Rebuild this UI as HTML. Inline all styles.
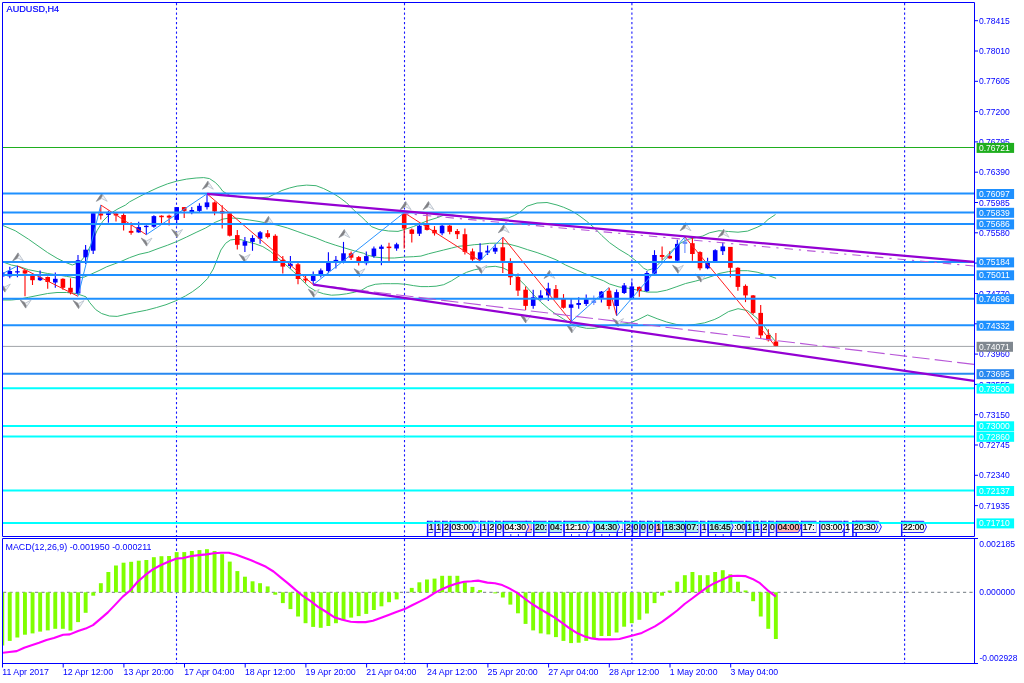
<!DOCTYPE html>
<html lang="en"><head><meta charset="utf-8"><title>AUDUSD,H4</title>
<style>
html,body{margin:0;padding:0;background:#fff;}
body{width:1024px;height:683px;overflow:hidden;font-family:"Liberation Sans",Arial,sans-serif;}
svg{display:block;}
</style></head><body>
<svg width="1024" height="683" viewBox="0 0 1024 683" font-family="'Liberation Sans', Arial, sans-serif" font-size="8.5px">
<rect width="1024" height="683" fill="#ffffff"/>
<defs><clipPath id="cm"><rect x="3" y="3" width="971" height="533"/></clipPath><clipPath id="cd"><rect x="3" y="539" width="971" height="124"/></clipPath></defs>
<g stroke="#1818ff" stroke-width="1.1" stroke-dasharray="2.3 2.45" fill="none">
<line x1="176.5" y1="3" x2="176.5" y2="536"/>
<line x1="176.5" y1="539" x2="176.5" y2="663"/>
<line x1="404.5" y1="3" x2="404.5" y2="536"/>
<line x1="404.5" y1="539" x2="404.5" y2="663"/>
<line x1="631.9" y1="3" x2="631.9" y2="536"/>
<line x1="631.9" y1="539" x2="631.9" y2="663"/>
<line x1="904.6" y1="3" x2="904.6" y2="536"/>
<line x1="904.6" y1="539" x2="904.6" y2="663"/>
</g>
<g clip-path="url(#cm)">
<polyline points="2.9,225.5 15.2,230.7 28.5,239.2 38.0,245.9 47.6,252.6 57.1,258.3 64.7,262.1 72.3,265.0 80.0,262.1 85.6,255.4 91.4,244.0 97.0,230.7 102.8,221.2 110.4,213.5 118.0,208.8 125.6,205.0 129.5,201.9 139.0,196.8 148.5,192.0 158.0,187.6 167.6,183.8 177.1,181.0 186.6,179.1 196.1,178.0 203.7,177.6 209.5,178.6 215.2,182.4 219.0,186.2 222.8,191.3 230.0,195.5 245.0,197.5 260.0,197.8 268.5,197.1 274.3,194.3 281.9,190.5 289.5,188.0 297.1,186.1 306.6,185.1 316.1,185.7 323.7,188.6 331.4,192.4 339.0,197.1 346.6,202.8 354.2,210.5 361.8,217.1 365.7,220.9 371.4,226.6 379.0,229.5 388.5,231.0 398.0,231.4 405.7,229.1 413.3,226.6 420.9,223.4 428.5,220.4 436.1,218.1 443.7,215.2 451.4,214.8 460.9,216.2 470.4,218.1 479.9,219.0 490.0,218.3 499.0,218.7 508.5,217.9 514.3,215.5 519.5,212.5 527.0,206.2 537.0,203.0 547.0,202.5 557.0,205.0 563.7,207.3 571.4,210.7 579.0,215.5 586.6,221.2 594.2,227.8 601.8,235.5 609.5,242.6 619.0,249.3 628.5,255.0 638.0,262.6 643.8,268.3 647.6,270.2 651.4,269.2 657.1,265.4 664.7,257.8 672.3,250.2 680.0,243.5 687.6,239.4 695.2,237.8 702.8,236.0 709.5,232.8 719.0,230.7 728.5,231.5 738.0,232.2 747.6,231.1 757.1,227.3 762.8,224.5 768.0,219.5 775.5,214.5" fill="none" stroke="#3cb371" stroke-width="1" stroke-linejoin="round"/>
<polyline points="2.9,262.0 11.4,265.0 19.0,266.5 28.5,269.7 38.0,271.6 47.6,273.5 57.0,274.8 66.6,276.4 76.0,277.9 83.7,277.3 91.4,274.0 99.0,270.6 106.6,266.8 114.2,264.0 121.8,261.1 129.5,257.7 139.0,254.3 148.5,252.2 158.0,248.6 167.6,245.2 177.1,241.4 186.6,237.0 196.1,232.4 205.6,228.0 215.2,222.3 222.8,219.1 230.4,218.0 238.0,218.3 249.5,220.0 259.0,221.5 268.5,223.4 278.0,225.3 287.6,228.0 297.1,231.4 306.6,234.8 316.1,238.0 325.6,241.9 335.2,245.1 344.7,248.0 354.2,250.8 363.7,253.3 367.6,255.2 375.2,257.1 384.7,258.0 394.3,258.0 403.8,257.1 413.3,256.7 420.9,256.1 428.5,253.8 436.1,251.9 443.7,250.0 451.4,248.1 459.0,246.2 466.6,245.7 474.2,244.7 481.8,244.2 489.5,243.3 499.0,243.1 508.5,244.0 518.0,246.5 527.6,249.7 537.1,252.6 546.6,256.0 556.1,259.8 565.6,265.0 575.2,269.3 584.7,273.5 594.2,277.3 603.7,280.8 609.5,284.0 619.0,286.9 628.5,288.3 638.0,290.2 647.6,292.1 657.1,292.1 666.6,290.2 676.1,286.9 685.6,283.5 695.2,281.2 704.7,278.6 714.2,275.5 719.0,273.5 728.5,271.6 738.0,270.7 747.6,270.7 757.1,272.2 766.6,274.9 776.1,278.3" fill="none" stroke="#3cb371" stroke-width="1" stroke-linejoin="round"/>
<polyline points="2.9,300.0 11.4,300.0 19.0,299.2 28.5,297.3 38.0,295.4 47.6,293.5 57.0,292.5 66.6,292.5 76.0,293.5 83.7,296.0 86.0,296.9 89.8,302.7 95.7,309.6 101.6,313.5 109.4,316.0 117.2,316.4 127.0,314.1 136.7,312.1 146.5,310.2 156.3,307.6 166.0,304.7 175.8,300.8 185.5,295.9 192.3,291.8 200.0,286.1 207.6,278.5 213.3,269.0 217.1,259.5 220.9,250.0 225.6,243.3 230.4,240.0 236.1,239.2 241.8,239.8 247.6,241.9 255.2,243.8 262.8,246.6 270.5,251.4 278.0,258.0 285.7,264.7 293.3,271.4 300.9,279.0 308.5,286.6 316.1,291.3 323.7,293.8 331.4,295.2 339.0,294.8 346.6,293.8 354.2,292.3 361.8,290.0 367.6,286.6 375.2,284.3 382.8,283.7 390.5,283.7 398.0,283.7 405.7,284.3 413.3,285.6 420.9,286.6 428.5,286.6 436.1,286.2 443.7,284.7 451.4,280.9 459.0,276.1 466.6,272.3 474.2,269.8 481.8,268.5 487.6,266.9 495.2,266.3 502.8,267.8 510.5,271.6 518.0,278.3 525.7,285.9 533.3,294.5 540.9,302.1 548.5,308.7 556.1,314.4 563.7,319.2 571.4,324.0 579.0,326.8 586.6,328.3 594.2,328.3 601.8,326.8 609.5,325.4 619.0,324.4 628.5,323.5 638.0,319.7 647.6,314.9 657.1,318.7 666.6,322.0 676.1,324.4 685.6,325.4 695.2,324.4 704.7,322.8 714.2,319.6 719.0,317.3 728.5,311.6 738.0,308.7 747.6,310.6 757.1,318.3 764.7,326.8 770.4,335.4 775.2,341.1" fill="none" stroke="#3cb371" stroke-width="1" stroke-linejoin="round"/>
<line x1="2.2" y1="270.0" x2="2.2" y2="278.0" stroke="#0000ff" stroke-width="1.1"/>
<rect x="-0.1" y="272.5" width="4.6" height="4.0" fill="#0000ff"/>
<line x1="9.8" y1="266.8" x2="9.8" y2="278.3" stroke="#0000ff" stroke-width="1.1"/>
<rect x="7.5" y="271.0" width="4.6" height="5.4" fill="#0000ff"/>
<line x1="17.4" y1="265.9" x2="17.4" y2="277.3" stroke="#0000ff" stroke-width="1.1"/>
<rect x="15.1" y="271.2" width="4.6" height="1.3" fill="#0000ff"/>
<line x1="25.0" y1="270.3" x2="25.0" y2="296.3" stroke="#ff0000" stroke-width="1.1"/>
<rect x="22.7" y="270.3" width="4.6" height="3.2" fill="#ff0000"/>
<line x1="32.5" y1="274.5" x2="32.5" y2="285.0" stroke="#ff0000" stroke-width="1.1"/>
<rect x="30.2" y="276.0" width="4.6" height="4.2" fill="#ff0000"/>
<line x1="40.1" y1="270.6" x2="40.1" y2="281.1" stroke="#0000ff" stroke-width="1.1"/>
<rect x="37.8" y="277.3" width="4.6" height="2.9" fill="#0000ff"/>
<line x1="47.7" y1="276.4" x2="47.7" y2="288.7" stroke="#ff0000" stroke-width="1.1"/>
<rect x="45.4" y="277.0" width="4.6" height="5.0" fill="#ff0000"/>
<line x1="55.3" y1="272.6" x2="55.3" y2="287.8" stroke="#0000ff" stroke-width="1.1"/>
<rect x="53.0" y="278.8" width="4.6" height="3.7" fill="#0000ff"/>
<line x1="62.9" y1="278.3" x2="62.9" y2="289.7" stroke="#ff0000" stroke-width="1.1"/>
<rect x="60.6" y="278.8" width="4.6" height="9.0" fill="#ff0000"/>
<line x1="70.5" y1="278.3" x2="70.5" y2="294.4" stroke="#ff0000" stroke-width="1.1"/>
<rect x="68.2" y="287.8" width="4.6" height="4.7" fill="#ff0000"/>
<line x1="78.0" y1="255.0" x2="78.0" y2="294.4" stroke="#0000ff" stroke-width="1.1"/>
<rect x="75.8" y="260.2" width="4.6" height="33.3" fill="#0000ff"/>
<line x1="85.6" y1="245.0" x2="85.6" y2="264.0" stroke="#0000ff" stroke-width="1.1"/>
<rect x="83.3" y="249.7" width="4.6" height="7.6" fill="#0000ff"/>
<line x1="93.2" y1="213.2" x2="93.2" y2="253.9" stroke="#0000ff" stroke-width="1.1"/>
<rect x="90.9" y="213.2" width="4.6" height="37.5" fill="#0000ff"/>
<line x1="100.8" y1="205.6" x2="100.8" y2="219.6" stroke="#ff0000" stroke-width="1.1"/>
<rect x="98.5" y="213.5" width="4.6" height="2.0" fill="#ff0000"/>
<line x1="108.4" y1="210.7" x2="108.4" y2="222.7" stroke="#0000ff" stroke-width="1.1"/>
<rect x="106.1" y="213.2" width="4.6" height="1.8" fill="#0000ff"/>
<line x1="116.0" y1="212.6" x2="116.0" y2="221.5" stroke="#ff0000" stroke-width="1.1"/>
<rect x="113.7" y="213.5" width="4.6" height="2.0" fill="#ff0000"/>
<line x1="123.6" y1="213.3" x2="123.6" y2="230.4" stroke="#ff0000" stroke-width="1.1"/>
<rect x="121.3" y="215.0" width="4.6" height="10.0" fill="#ff0000"/>
<line x1="131.1" y1="222.3" x2="131.1" y2="234.7" stroke="#ff0000" stroke-width="1.1"/>
<rect x="128.8" y="230.9" width="4.6" height="1.9" fill="#ff0000"/>
<line x1="138.7" y1="221.8" x2="138.7" y2="232.8" stroke="#0000ff" stroke-width="1.1"/>
<rect x="136.4" y="227.1" width="4.6" height="5.3" fill="#0000ff"/>
<line x1="146.3" y1="225.2" x2="146.3" y2="234.7" stroke="#0000ff" stroke-width="1.1"/>
<rect x="144.0" y="225.8" width="4.6" height="1.3" fill="#0000ff"/>
<line x1="153.9" y1="215.3" x2="153.9" y2="227.7" stroke="#0000ff" stroke-width="1.1"/>
<rect x="151.6" y="216.1" width="4.6" height="10.6" fill="#0000ff"/>
<line x1="161.5" y1="215.3" x2="161.5" y2="223.3" stroke="#ff0000" stroke-width="1.1"/>
<rect x="159.2" y="215.7" width="4.6" height="1.5" fill="#ff0000"/>
<line x1="169.1" y1="214.7" x2="169.1" y2="225.6" stroke="#ff0000" stroke-width="1.1"/>
<rect x="166.8" y="215.7" width="4.6" height="1.9" fill="#ff0000"/>
<line x1="176.7" y1="207.1" x2="176.7" y2="225.2" stroke="#0000ff" stroke-width="1.1"/>
<rect x="174.4" y="207.1" width="4.6" height="12.8" fill="#0000ff"/>
<line x1="184.2" y1="207.1" x2="184.2" y2="218.0" stroke="#ff0000" stroke-width="1.1"/>
<rect x="181.9" y="207.1" width="4.6" height="3.8" fill="#ff0000"/>
<line x1="191.8" y1="207.1" x2="191.8" y2="214.2" stroke="#0000ff" stroke-width="1.1"/>
<rect x="189.5" y="210.0" width="4.6" height="2.3" fill="#0000ff"/>
<line x1="199.4" y1="203.3" x2="199.4" y2="212.3" stroke="#0000ff" stroke-width="1.1"/>
<rect x="197.1" y="205.8" width="4.6" height="5.1" fill="#0000ff"/>
<line x1="207.0" y1="194.4" x2="207.0" y2="209.6" stroke="#0000ff" stroke-width="1.1"/>
<rect x="204.7" y="202.4" width="4.6" height="4.7" fill="#0000ff"/>
<line x1="214.6" y1="201.4" x2="214.6" y2="215.3" stroke="#ff0000" stroke-width="1.1"/>
<rect x="212.3" y="202.4" width="4.6" height="9.1" fill="#ff0000"/>
<line x1="222.2" y1="205.2" x2="222.2" y2="228.6" stroke="#ff0000" stroke-width="1.1"/>
<rect x="219.9" y="210.9" width="4.6" height="2.5" fill="#ff0000"/>
<line x1="229.8" y1="213.4" x2="229.8" y2="236.6" stroke="#ff0000" stroke-width="1.1"/>
<rect x="227.4" y="213.4" width="4.6" height="22.3" fill="#ff0000"/>
<line x1="237.3" y1="230.0" x2="237.3" y2="249.6" stroke="#ff0000" stroke-width="1.1"/>
<rect x="235.0" y="235.1" width="4.6" height="9.7" fill="#ff0000"/>
<line x1="244.9" y1="237.0" x2="244.9" y2="252.0" stroke="#0000ff" stroke-width="1.1"/>
<rect x="242.6" y="241.3" width="4.6" height="4.4" fill="#0000ff"/>
<line x1="252.5" y1="235.2" x2="252.5" y2="250.8" stroke="#0000ff" stroke-width="1.1"/>
<rect x="250.2" y="238.0" width="4.6" height="3.9" fill="#0000ff"/>
<line x1="260.1" y1="231.0" x2="260.1" y2="243.8" stroke="#0000ff" stroke-width="1.1"/>
<rect x="257.8" y="232.3" width="4.6" height="6.3" fill="#0000ff"/>
<line x1="267.7" y1="229.9" x2="267.7" y2="238.6" stroke="#ff0000" stroke-width="1.1"/>
<rect x="265.4" y="233.3" width="4.6" height="3.8" fill="#ff0000"/>
<line x1="275.3" y1="234.2" x2="275.3" y2="260.9" stroke="#ff0000" stroke-width="1.1"/>
<rect x="273.0" y="235.8" width="4.6" height="25.1" fill="#ff0000"/>
<line x1="282.8" y1="256.1" x2="282.8" y2="273.6" stroke="#ff0000" stroke-width="1.1"/>
<rect x="280.5" y="259.9" width="4.6" height="6.7" fill="#ff0000"/>
<line x1="290.4" y1="256.1" x2="290.4" y2="268.5" stroke="#0000ff" stroke-width="1.1"/>
<rect x="288.1" y="263.7" width="4.6" height="2.3" fill="#0000ff"/>
<line x1="298.0" y1="262.2" x2="298.0" y2="284.3" stroke="#ff0000" stroke-width="1.1"/>
<rect x="295.7" y="264.3" width="4.6" height="14.7" fill="#ff0000"/>
<line x1="305.6" y1="276.1" x2="305.6" y2="282.8" stroke="#ff0000" stroke-width="1.1"/>
<rect x="303.3" y="278.6" width="4.6" height="1.9" fill="#ff0000"/>
<line x1="313.2" y1="271.4" x2="313.2" y2="284.7" stroke="#0000ff" stroke-width="1.1"/>
<rect x="310.9" y="275.7" width="4.6" height="5.2" fill="#0000ff"/>
<line x1="320.8" y1="268.5" x2="320.8" y2="277.5" stroke="#0000ff" stroke-width="1.1"/>
<rect x="318.5" y="270.4" width="4.6" height="4.2" fill="#0000ff"/>
<line x1="328.4" y1="252.3" x2="328.4" y2="273.3" stroke="#0000ff" stroke-width="1.1"/>
<rect x="326.1" y="262.2" width="4.6" height="8.8" fill="#0000ff"/>
<line x1="335.9" y1="256.1" x2="335.9" y2="268.5" stroke="#0000ff" stroke-width="1.1"/>
<rect x="333.6" y="259.9" width="4.6" height="2.3" fill="#0000ff"/>
<line x1="343.5" y1="241.9" x2="343.5" y2="263.4" stroke="#0000ff" stroke-width="1.1"/>
<rect x="341.2" y="253.3" width="4.6" height="7.6" fill="#0000ff"/>
<line x1="351.1" y1="251.4" x2="351.1" y2="259.9" stroke="#ff0000" stroke-width="1.1"/>
<rect x="348.8" y="253.3" width="4.6" height="4.4" fill="#ff0000"/>
<line x1="358.7" y1="256.1" x2="358.7" y2="265.6" stroke="#ff0000" stroke-width="1.1"/>
<rect x="356.4" y="257.1" width="4.6" height="5.7" fill="#ff0000"/>
<line x1="366.3" y1="251.4" x2="366.3" y2="265.3" stroke="#0000ff" stroke-width="1.1"/>
<rect x="364.0" y="256.1" width="4.6" height="7.1" fill="#0000ff"/>
<line x1="373.9" y1="246.6" x2="373.9" y2="257.7" stroke="#0000ff" stroke-width="1.1"/>
<rect x="371.6" y="248.5" width="4.6" height="7.6" fill="#0000ff"/>
<line x1="381.4" y1="244.7" x2="381.4" y2="265.3" stroke="#0000ff" stroke-width="1.1"/>
<rect x="379.1" y="246.6" width="4.6" height="2.3" fill="#0000ff"/>
<line x1="389.0" y1="242.8" x2="389.0" y2="260.9" stroke="#ff0000" stroke-width="1.1"/>
<rect x="386.7" y="246.6" width="4.6" height="1.5" fill="#ff0000"/>
<line x1="396.6" y1="242.8" x2="396.6" y2="250.8" stroke="#0000ff" stroke-width="1.1"/>
<rect x="394.3" y="244.3" width="4.6" height="4.2" fill="#0000ff"/>
<line x1="404.2" y1="212.4" x2="404.2" y2="248.5" stroke="#ff0000" stroke-width="1.1"/>
<rect x="401.9" y="213.9" width="4.6" height="14.6" fill="#ff0000"/>
<line x1="411.8" y1="228.5" x2="411.8" y2="242.4" stroke="#ff0000" stroke-width="1.1"/>
<rect x="409.5" y="229.5" width="4.6" height="4.4" fill="#ff0000"/>
<line x1="419.4" y1="224.7" x2="419.4" y2="236.1" stroke="#0000ff" stroke-width="1.1"/>
<rect x="417.1" y="225.7" width="4.6" height="8.0" fill="#0000ff"/>
<line x1="427.0" y1="213.3" x2="427.0" y2="230.4" stroke="#ff0000" stroke-width="1.1"/>
<rect x="424.7" y="224.7" width="4.6" height="5.2" fill="#ff0000"/>
<line x1="434.5" y1="226.1" x2="434.5" y2="235.6" stroke="#ff0000" stroke-width="1.1"/>
<rect x="432.2" y="229.9" width="4.6" height="3.4" fill="#ff0000"/>
<line x1="442.1" y1="224.2" x2="442.1" y2="235.2" stroke="#0000ff" stroke-width="1.1"/>
<rect x="439.8" y="225.7" width="4.6" height="7.6" fill="#0000ff"/>
<line x1="449.7" y1="224.7" x2="449.7" y2="234.2" stroke="#ff0000" stroke-width="1.1"/>
<rect x="447.4" y="225.7" width="4.6" height="6.1" fill="#ff0000"/>
<line x1="457.3" y1="229.1" x2="457.3" y2="239.0" stroke="#ff0000" stroke-width="1.1"/>
<rect x="455.0" y="231.0" width="4.6" height="3.2" fill="#ff0000"/>
<line x1="464.9" y1="228.5" x2="464.9" y2="254.6" stroke="#ff0000" stroke-width="1.1"/>
<rect x="462.6" y="234.2" width="4.6" height="17.7" fill="#ff0000"/>
<line x1="472.5" y1="248.5" x2="472.5" y2="260.9" stroke="#ff0000" stroke-width="1.1"/>
<rect x="470.2" y="251.4" width="4.6" height="8.2" fill="#ff0000"/>
<line x1="480.1" y1="243.2" x2="480.1" y2="260.3" stroke="#0000ff" stroke-width="1.1"/>
<rect x="477.8" y="252.3" width="4.6" height="7.3" fill="#0000ff"/>
<line x1="487.6" y1="245.5" x2="487.6" y2="254.9" stroke="#0000ff" stroke-width="1.1"/>
<rect x="485.3" y="250.7" width="4.6" height="1.9" fill="#0000ff"/>
<line x1="495.2" y1="244.0" x2="495.2" y2="254.1" stroke="#0000ff" stroke-width="1.1"/>
<rect x="492.9" y="247.8" width="4.6" height="3.8" fill="#0000ff"/>
<line x1="502.8" y1="237.4" x2="502.8" y2="273.0" stroke="#ff0000" stroke-width="1.1"/>
<rect x="500.5" y="247.3" width="4.6" height="13.5" fill="#ff0000"/>
<line x1="510.4" y1="258.3" x2="510.4" y2="284.9" stroke="#ff0000" stroke-width="1.1"/>
<rect x="508.1" y="262.7" width="4.6" height="14.6" fill="#ff0000"/>
<line x1="518.0" y1="273.5" x2="518.0" y2="296.0" stroke="#ff0000" stroke-width="1.1"/>
<rect x="515.7" y="277.0" width="4.6" height="13.6" fill="#ff0000"/>
<line x1="525.6" y1="286.5" x2="525.6" y2="310.1" stroke="#ff0000" stroke-width="1.1"/>
<rect x="523.3" y="289.7" width="4.6" height="16.2" fill="#ff0000"/>
<line x1="533.2" y1="289.7" x2="533.2" y2="308.7" stroke="#0000ff" stroke-width="1.1"/>
<rect x="530.9" y="297.3" width="4.6" height="8.6" fill="#0000ff"/>
<line x1="540.7" y1="290.3" x2="540.7" y2="300.5" stroke="#0000ff" stroke-width="1.1"/>
<rect x="538.4" y="295.4" width="4.6" height="3.8" fill="#0000ff"/>
<line x1="548.3" y1="282.7" x2="548.3" y2="301.1" stroke="#0000ff" stroke-width="1.1"/>
<rect x="546.0" y="288.4" width="4.6" height="7.0" fill="#0000ff"/>
<line x1="555.9" y1="284.9" x2="555.9" y2="298.3" stroke="#ff0000" stroke-width="1.1"/>
<rect x="553.6" y="289.1" width="4.6" height="9.2" fill="#ff0000"/>
<line x1="563.5" y1="294.1" x2="563.5" y2="308.7" stroke="#ff0000" stroke-width="1.1"/>
<rect x="561.2" y="298.6" width="4.6" height="9.2" fill="#ff0000"/>
<line x1="571.1" y1="298.6" x2="571.1" y2="321.5" stroke="#0000ff" stroke-width="1.1"/>
<rect x="568.8" y="304.4" width="4.6" height="3.4" fill="#0000ff"/>
<line x1="578.7" y1="297.3" x2="578.7" y2="308.7" stroke="#0000ff" stroke-width="1.1"/>
<rect x="576.4" y="303.0" width="4.6" height="1.9" fill="#0000ff"/>
<line x1="586.2" y1="294.5" x2="586.2" y2="305.9" stroke="#0000ff" stroke-width="1.1"/>
<rect x="583.9" y="299.2" width="4.6" height="4.8" fill="#0000ff"/>
<line x1="593.8" y1="295.4" x2="593.8" y2="304.9" stroke="#6a8cff" stroke-width="1.1"/>
<rect x="591.5" y="300.5" width="4.6" height="2.5" fill="#6a8cff"/>
<line x1="601.4" y1="291.0" x2="601.4" y2="302.5" stroke="#0000ff" stroke-width="1.1"/>
<rect x="599.1" y="291.6" width="4.6" height="6.3" fill="#0000ff"/>
<line x1="609.0" y1="288.3" x2="609.0" y2="309.2" stroke="#ff0000" stroke-width="1.1"/>
<rect x="606.7" y="290.8" width="4.6" height="15.2" fill="#ff0000"/>
<line x1="616.6" y1="289.6" x2="616.6" y2="315.9" stroke="#0000ff" stroke-width="1.1"/>
<rect x="614.3" y="292.1" width="4.6" height="13.9" fill="#0000ff"/>
<line x1="624.2" y1="283.1" x2="624.2" y2="294.0" stroke="#0000ff" stroke-width="1.1"/>
<rect x="621.9" y="285.4" width="4.6" height="7.6" fill="#0000ff"/>
<line x1="631.8" y1="281.6" x2="631.8" y2="298.7" stroke="#0000ff" stroke-width="1.1"/>
<rect x="629.5" y="286.4" width="4.6" height="12.0" fill="#0000ff"/>
<line x1="639.3" y1="286.4" x2="639.3" y2="296.8" stroke="#ff0000" stroke-width="1.1"/>
<rect x="637.0" y="286.9" width="4.6" height="4.2" fill="#ff0000"/>
<line x1="646.9" y1="271.1" x2="646.9" y2="292.1" stroke="#0000ff" stroke-width="1.1"/>
<rect x="644.6" y="273.0" width="4.6" height="18.1" fill="#0000ff"/>
<line x1="654.5" y1="250.2" x2="654.5" y2="274.0" stroke="#0000ff" stroke-width="1.1"/>
<rect x="652.2" y="255.0" width="4.6" height="18.6" fill="#0000ff"/>
<line x1="662.1" y1="246.4" x2="662.1" y2="259.7" stroke="#ff0000" stroke-width="1.1"/>
<rect x="659.8" y="255.0" width="4.6" height="1.9" fill="#ff0000"/>
<line x1="669.7" y1="251.2" x2="669.7" y2="258.8" stroke="#ff0000" stroke-width="1.1"/>
<rect x="667.4" y="255.9" width="4.6" height="2.5" fill="#ff0000"/>
<line x1="677.3" y1="239.7" x2="677.3" y2="261.2" stroke="#0000ff" stroke-width="1.1"/>
<rect x="675.0" y="243.9" width="4.6" height="16.8" fill="#0000ff"/>
<line x1="684.9" y1="236.9" x2="684.9" y2="253.0" stroke="#6a8cff" stroke-width="1.1"/>
<rect x="682.6" y="241.6" width="4.6" height="2.3" fill="#6a8cff"/>
<line x1="692.4" y1="237.8" x2="692.4" y2="260.7" stroke="#ff0000" stroke-width="1.1"/>
<rect x="690.1" y="243.2" width="4.6" height="10.8" fill="#ff0000"/>
<line x1="700.0" y1="251.2" x2="700.0" y2="270.2" stroke="#ff0000" stroke-width="1.1"/>
<rect x="697.7" y="252.1" width="4.6" height="16.2" fill="#ff0000"/>
<line x1="707.6" y1="257.8" x2="707.6" y2="269.2" stroke="#0000ff" stroke-width="1.1"/>
<rect x="705.3" y="262.2" width="4.6" height="6.1" fill="#0000ff"/>
<line x1="715.2" y1="249.3" x2="715.2" y2="261.6" stroke="#0000ff" stroke-width="1.1"/>
<rect x="712.9" y="250.2" width="4.6" height="11.4" fill="#0000ff"/>
<line x1="722.8" y1="242.6" x2="722.8" y2="255.0" stroke="#0000ff" stroke-width="1.1"/>
<rect x="720.5" y="246.4" width="4.6" height="4.8" fill="#0000ff"/>
<line x1="730.4" y1="246.9" x2="730.4" y2="277.3" stroke="#ff0000" stroke-width="1.1"/>
<rect x="728.1" y="246.9" width="4.6" height="20.9" fill="#ff0000"/>
<line x1="737.9" y1="267.3" x2="737.9" y2="290.7" stroke="#ff0000" stroke-width="1.1"/>
<rect x="735.6" y="267.8" width="4.6" height="19.1" fill="#ff0000"/>
<line x1="745.5" y1="284.4" x2="745.5" y2="302.1" stroke="#ff0000" stroke-width="1.1"/>
<rect x="743.2" y="285.9" width="4.6" height="9.5" fill="#ff0000"/>
<line x1="753.1" y1="295.0" x2="753.1" y2="314.5" stroke="#ff0000" stroke-width="1.1"/>
<rect x="750.8" y="295.4" width="4.6" height="17.5" fill="#ff0000"/>
<line x1="760.7" y1="304.9" x2="760.7" y2="338.8" stroke="#ff0000" stroke-width="1.1"/>
<rect x="758.4" y="312.9" width="4.6" height="22.5" fill="#ff0000"/>
<line x1="768.3" y1="329.3" x2="768.3" y2="341.5" stroke="#ff0000" stroke-width="1.1"/>
<rect x="766.0" y="335.0" width="4.6" height="5.2" fill="#ff0000"/>
<line x1="775.9" y1="333.1" x2="775.9" y2="346.8" stroke="#ff0000" stroke-width="1.1"/>
<rect x="773.6" y="341.5" width="4.6" height="4.9" fill="#ff0000"/>
<line x1="2.9" y1="273.5" x2="17.4" y2="265.9" stroke="#2a94ff" stroke-width="1"/>
<line x1="17.4" y1="265.9" x2="78.0" y2="296.3" stroke="#ff2020" stroke-width="1"/>
<line x1="78.0" y1="296.3" x2="100.8" y2="205.0" stroke="#2a94ff" stroke-width="1"/>
<line x1="100.8" y1="205.0" x2="146.3" y2="234.7" stroke="#ff2020" stroke-width="1"/>
<line x1="146.3" y1="234.7" x2="207.0" y2="193.8" stroke="#2a94ff" stroke-width="1"/>
<line x1="207.0" y1="193.8" x2="313.3" y2="284.7" stroke="#ff2020" stroke-width="1"/>
<line x1="313.3" y1="284.7" x2="404.2" y2="212.7" stroke="#2a94ff" stroke-width="1"/>
<line x1="404.2" y1="212.7" x2="480.0" y2="260.9" stroke="#ff2020" stroke-width="1"/>
<line x1="480.0" y1="260.9" x2="502.8" y2="237.0" stroke="#2a94ff" stroke-width="1"/>
<line x1="502.8" y1="237.0" x2="571.2" y2="321.5" stroke="#ff2020" stroke-width="1"/>
<line x1="571.2" y1="321.5" x2="609.0" y2="287.5" stroke="#2a94ff" stroke-width="1"/>
<line x1="609.0" y1="287.5" x2="616.6" y2="315.9" stroke="#ff2020" stroke-width="1"/>
<line x1="616.6" y1="315.9" x2="684.9" y2="236.9" stroke="#2a94ff" stroke-width="1"/>
<line x1="684.9" y1="236.9" x2="775.9" y2="346.8" stroke="#ff2020" stroke-width="1"/>
<polygon points="18.1,252.9 23.5,260.9 18.1,258.1 12.7,260.9" fill="#eef1f5" stroke="#b4bcc8" stroke-width="0.8"/>
<polygon points="18.1,252.9 12.7,260.9 17.1,258.2 18.7,255.6" fill="#808084" stroke="#808084" stroke-width="0.4"/>
<polygon points="101.8,193.3 107.2,201.3 101.8,198.5 96.4,201.3" fill="#eef1f5" stroke="#b4bcc8" stroke-width="0.8"/>
<polygon points="101.8,193.3 96.4,201.3 100.8,198.6 102.4,196.0" fill="#808084" stroke="#808084" stroke-width="0.4"/>
<polygon points="207.9,181.2 213.3,189.2 207.9,186.4 202.5,189.2" fill="#eef1f5" stroke="#b4bcc8" stroke-width="0.8"/>
<polygon points="207.9,181.2 202.5,189.2 206.9,186.5 208.5,183.9" fill="#808084" stroke="#808084" stroke-width="0.4"/>
<polygon points="268.5,216.4 273.9,224.4 268.5,221.6 263.1,224.4" fill="#eef1f5" stroke="#b4bcc8" stroke-width="0.8"/>
<polygon points="268.5,216.4 263.1,224.4 267.5,221.7 269.1,219.1" fill="#808084" stroke="#808084" stroke-width="0.4"/>
<polygon points="344.3,229.6 349.7,237.6 344.3,234.8 338.9,237.6" fill="#eef1f5" stroke="#b4bcc8" stroke-width="0.8"/>
<polygon points="344.3,229.6 338.9,237.6 343.3,234.9 344.9,232.3" fill="#808084" stroke="#808084" stroke-width="0.4"/>
<polygon points="405.7,201.6 411.1,209.6 405.7,206.8 400.3,209.6" fill="#eef1f5" stroke="#b4bcc8" stroke-width="0.8"/>
<polygon points="405.7,201.6 400.3,209.6 404.7,206.9 406.3,204.3" fill="#808084" stroke="#808084" stroke-width="0.4"/>
<polygon points="428.5,201.6 433.9,209.6 428.5,206.8 423.1,209.6" fill="#eef1f5" stroke="#b4bcc8" stroke-width="0.8"/>
<polygon points="428.5,201.6 423.1,209.6 427.5,206.9 429.1,204.3" fill="#808084" stroke="#808084" stroke-width="0.4"/>
<polygon points="503.8,224.7 509.2,232.7 503.8,229.9 498.4,232.7" fill="#eef1f5" stroke="#b4bcc8" stroke-width="0.8"/>
<polygon points="503.8,224.7 498.4,232.7 502.8,230.0 504.4,227.4" fill="#808084" stroke="#808084" stroke-width="0.4"/>
<polygon points="549.5,270.4 554.9,278.4 549.5,275.6 544.1,278.4" fill="#eef1f5" stroke="#b4bcc8" stroke-width="0.8"/>
<polygon points="549.5,270.4 544.1,278.4 548.5,275.7 550.1,273.1" fill="#808084" stroke="#808084" stroke-width="0.4"/>
<polygon points="685.6,222.7 691.0,230.7 685.6,227.9 680.2,230.7" fill="#eef1f5" stroke="#b4bcc8" stroke-width="0.8"/>
<polygon points="685.6,222.7 680.2,230.7 684.6,228.0 686.2,225.4" fill="#808084" stroke="#808084" stroke-width="0.4"/>
<polygon points="723.7,229.2 729.1,237.2 723.7,234.4 718.3,237.2" fill="#eef1f5" stroke="#b4bcc8" stroke-width="0.8"/>
<polygon points="723.7,229.2 718.3,237.2 722.7,234.5 724.3,231.9" fill="#808084" stroke="#808084" stroke-width="0.4"/>
<polygon points="4.9,292.1 10.3,284.1 4.9,286.9 -0.5,284.1" fill="#eef1f5" stroke="#b4bcc8" stroke-width="0.8"/>
<polygon points="4.9,292.1 -0.5,284.1 3.9,286.8 5.5,289.4" fill="#808084" stroke="#808084" stroke-width="0.4"/>
<polygon points="25.7,308.1 31.1,300.1 25.7,302.9 20.3,300.1" fill="#eef1f5" stroke="#b4bcc8" stroke-width="0.8"/>
<polygon points="25.7,308.1 20.3,300.1 24.7,302.8 26.3,305.4" fill="#808084" stroke="#808084" stroke-width="0.4"/>
<polygon points="78.6,308.6 84.0,300.6 78.6,303.4 73.2,300.6" fill="#eef1f5" stroke="#b4bcc8" stroke-width="0.8"/>
<polygon points="78.6,308.6 73.2,300.6 77.6,303.3 79.2,305.9" fill="#808084" stroke="#808084" stroke-width="0.4"/>
<polygon points="146.6,246.1 152.0,238.1 146.6,240.9 141.2,238.1" fill="#eef1f5" stroke="#b4bcc8" stroke-width="0.8"/>
<polygon points="146.6,246.1 141.2,238.1 145.6,240.8 147.2,243.4" fill="#808084" stroke="#808084" stroke-width="0.4"/>
<polygon points="177.1,237.5 182.5,229.5 177.1,232.3 171.7,229.5" fill="#eef1f5" stroke="#b4bcc8" stroke-width="0.8"/>
<polygon points="177.1,237.5 171.7,229.5 176.1,232.2 177.7,234.8" fill="#808084" stroke="#808084" stroke-width="0.4"/>
<polygon points="244.7,262.4 250.1,254.4 244.7,257.2 239.3,254.4" fill="#eef1f5" stroke="#b4bcc8" stroke-width="0.8"/>
<polygon points="244.7,262.4 239.3,254.4 243.7,257.1 245.3,259.7" fill="#808084" stroke="#808084" stroke-width="0.4"/>
<polygon points="313.8,297.3 319.2,289.3 313.8,292.1 308.4,289.3" fill="#eef1f5" stroke="#b4bcc8" stroke-width="0.8"/>
<polygon points="313.8,297.3 308.4,289.3 312.8,292.0 314.4,294.6" fill="#808084" stroke="#808084" stroke-width="0.4"/>
<polygon points="359.5,276.8 364.9,268.8 359.5,271.6 354.1,268.8" fill="#eef1f5" stroke="#b4bcc8" stroke-width="0.8"/>
<polygon points="359.5,276.8 354.1,268.8 358.5,271.5 360.1,274.1" fill="#808084" stroke="#808084" stroke-width="0.4"/>
<polygon points="481.4,273.4 486.8,265.4 481.4,268.2 476.0,265.4" fill="#eef1f5" stroke="#b4bcc8" stroke-width="0.8"/>
<polygon points="481.4,273.4 476.0,265.4 480.4,268.1 482.0,270.7" fill="#808084" stroke="#808084" stroke-width="0.4"/>
<polygon points="525.7,322.9 531.1,314.9 525.7,317.7 520.3,314.9" fill="#eef1f5" stroke="#b4bcc8" stroke-width="0.8"/>
<polygon points="525.7,322.9 520.3,314.9 524.7,317.6 526.3,320.2" fill="#808084" stroke="#808084" stroke-width="0.4"/>
<polygon points="571.9,332.8 577.3,324.8 571.9,327.6 566.5,324.8" fill="#eef1f5" stroke="#b4bcc8" stroke-width="0.8"/>
<polygon points="571.9,332.8 566.5,324.8 570.9,327.5 572.5,330.1" fill="#808084" stroke="#808084" stroke-width="0.4"/>
<polygon points="618.1,326.6 623.5,318.6 618.1,321.4 612.7,318.6" fill="#eef1f5" stroke="#b4bcc8" stroke-width="0.8"/>
<polygon points="618.1,326.6 612.7,318.6 617.1,321.3 618.7,323.9" fill="#808084" stroke="#808084" stroke-width="0.4"/>
<polygon points="678.0,273.3 683.4,265.3 678.0,268.1 672.6,265.3" fill="#eef1f5" stroke="#b4bcc8" stroke-width="0.8"/>
<polygon points="678.0,273.3 672.6,265.3 677.0,268.0 678.6,270.6" fill="#808084" stroke="#808084" stroke-width="0.4"/>
<polygon points="700.9,282.1 706.3,274.1 700.9,276.9 695.5,274.1" fill="#eef1f5" stroke="#b4bcc8" stroke-width="0.8"/>
<polygon points="700.9,282.1 695.5,274.1 699.9,276.8 701.5,279.4" fill="#808084" stroke="#808084" stroke-width="0.4"/>
<line x1="3" y1="147.5" x2="975" y2="147.5" stroke="#1fae1f" stroke-width="1"/>
<line x1="3" y1="193.6" x2="975" y2="193.6" stroke="#1e90ff" stroke-width="2"/>
<line x1="3" y1="212.4" x2="975" y2="212.4" stroke="#1e90ff" stroke-width="2"/>
<line x1="3" y1="224.0" x2="975" y2="224.0" stroke="#1e90ff" stroke-width="2"/>
<line x1="3" y1="262.0" x2="975" y2="262.0" stroke="#1e90ff" stroke-width="2"/>
<line x1="3" y1="274.9" x2="975" y2="274.9" stroke="#1e90ff" stroke-width="2"/>
<line x1="3" y1="298.7" x2="975" y2="298.7" stroke="#1e90ff" stroke-width="2"/>
<line x1="3" y1="325.3" x2="975" y2="325.3" stroke="#1e90ff" stroke-width="2"/>
<line x1="3" y1="346.4" x2="975" y2="346.4" stroke="#a0a4a8" stroke-width="1"/>
<line x1="3" y1="373.8" x2="975" y2="373.8" stroke="#2888f0" stroke-width="2"/>
<line x1="3" y1="388.2" x2="975" y2="388.2" stroke="#00ffff" stroke-width="2"/>
<line x1="3" y1="425.9" x2="975" y2="425.9" stroke="#00ffff" stroke-width="2"/>
<line x1="3" y1="436.4" x2="975" y2="436.4" stroke="#00ffff" stroke-width="2"/>
<line x1="3" y1="490.6" x2="975" y2="490.6" stroke="#00ffff" stroke-width="2"/>
<line x1="3" y1="523.0" x2="975" y2="523.0" stroke="#00ffff" stroke-width="1.8"/>
<line x1="404.2" y1="213.5" x2="974" y2="266" stroke="#b858d8" stroke-width="1.1" stroke-dasharray="8.5 6 2.2 6" stroke-dashoffset="4"/>
<line x1="313.3" y1="284.7" x2="974" y2="364.4" stroke="#b858d8" stroke-width="1.1" stroke-dasharray="17.4 5.2" stroke-dashoffset="6.9"/>
<line x1="207" y1="193.8" x2="974" y2="262" stroke="#9400d3" stroke-width="2.25"/>
<line x1="313.3" y1="284.7" x2="974" y2="381" stroke="#9400d3" stroke-width="2.25"/>
</g>
<text x="6.6" y="12.4" fill="#0000ff" stroke="#0000ff" stroke-width="0.2" font-size="8.8px" textLength="52.6" lengthAdjust="spacingAndGlyphs">AUDUSD,H4</text>
<g clip-path="url(#cm)">
<rect x="472.9" y="521.3" width="5.7" height="11.2" fill="#f4f4f4"/>
<path d="M472.9 521.3 H478.6 M472.9 532.5 H478.6" fill="none" stroke="#2020ff" stroke-width="1"/>
<line x1="478.6" y1="521.3" x2="478.6" y2="532.5" stroke="#9c9cff" stroke-width="0.8"/>
<line x1="473.1" y1="520.8" x2="473.1" y2="536" stroke="#1010ff" stroke-width="1.5"/>
<text transform="translate(476.9,530.3) scale(0.955,1)" fill="#000000" stroke="#000000" stroke-width="0.25" font-size="9px">.</text>
<rect x="526.0" y="521.3" width="5.7" height="11.2" fill="#ffb4b4"/>
<path d="M526.0 521.3 H531.7 M526.0 532.5 H531.7" fill="none" stroke="#2020ff" stroke-width="1"/>
<line x1="531.7" y1="521.3" x2="531.7" y2="532.5" stroke="#9c9cff" stroke-width="0.8"/>
<line x1="526.2" y1="520.8" x2="526.2" y2="536" stroke="#1010ff" stroke-width="1.5"/>
<text transform="translate(530.0,530.3) scale(0.955,1)" fill="#000000" stroke="#000000" stroke-width="0.25" font-size="9px">.</text>
<path d="M586.6 521.3 H592.3 L595.1 526.9 L592.3 532.5 H586.6 Z" fill="#f4f4f4" stroke="#2020ff" stroke-width="1"/>
<line x1="586.8" y1="520.8" x2="586.8" y2="536" stroke="#1010ff" stroke-width="1.5"/>
<rect x="617.0" y="521.3" width="5.7" height="11.2" fill="#f4f4f4"/>
<path d="M617.0 521.3 H622.7 M617.0 532.5 H622.7" fill="none" stroke="#2020ff" stroke-width="1"/>
<line x1="622.7" y1="521.3" x2="622.7" y2="532.5" stroke="#9c9cff" stroke-width="0.8"/>
<line x1="617.2" y1="520.8" x2="617.2" y2="536" stroke="#1010ff" stroke-width="1.5"/>
<text transform="translate(621.0,530.3) scale(0.955,1)" fill="#000000" stroke="#000000" stroke-width="0.25" font-size="9px">.</text>
<rect x="730.8" y="521.3" width="13.1" height="11.2" fill="#f4f4f4"/>
<path d="M730.8 521.3 H743.9 M730.8 532.5 H743.9" fill="none" stroke="#2020ff" stroke-width="1"/>
<line x1="743.9" y1="521.3" x2="743.9" y2="532.5" stroke="#9c9cff" stroke-width="0.8"/>
<line x1="731.0" y1="520.8" x2="731.0" y2="536" stroke="#1010ff" stroke-width="1.5"/>
<text transform="translate(734.2,530.3) scale(0.955,1)" fill="#000000" stroke="#000000" stroke-width="0.25" font-size="9px">:00</text>
<rect x="843.9" y="521.3" width="4.6" height="11.2" fill="#f4f4f4"/>
<path d="M843.9 521.3 H848.5 M843.9 532.5 H848.5" fill="none" stroke="#2020ff" stroke-width="1"/>
<line x1="848.5" y1="521.3" x2="848.5" y2="532.5" stroke="#9c9cff" stroke-width="0.8"/>
<line x1="844.1" y1="520.8" x2="844.1" y2="536" stroke="#1010ff" stroke-width="1.5"/>
<text transform="translate(845.3,530.3) scale(0.955,1)" fill="#000000" stroke="#000000" stroke-width="0.25" font-size="9px">1</text>
<path d="M856.0 521.3 H878.6 L881.4 526.9 L878.6 532.5 H856.0 Z" fill="#f4f4f4" stroke="#2020ff" stroke-width="1"/>
<line x1="856.2" y1="520.8" x2="856.2" y2="536" stroke="#1010ff" stroke-width="1.5"/>
<rect x="427.4" y="521.3" width="5.5" height="11.2" fill="#f4f4f4"/>
<path d="M427.4 521.3 H432.9 M427.4 532.5 H432.9" fill="none" stroke="#2020ff" stroke-width="1"/>
<line x1="432.9" y1="521.3" x2="432.9" y2="532.5" stroke="#9c9cff" stroke-width="0.8"/>
<line x1="427.6" y1="520.8" x2="427.6" y2="536" stroke="#1010ff" stroke-width="1.5"/>
<text transform="translate(428.8,530.3) scale(0.955,1)" fill="#000000" stroke="#000000" stroke-width="0.25" font-size="9px">1</text>
<rect x="434.9" y="521.3" width="5.5" height="11.2" fill="#f4f4f4"/>
<path d="M434.9 521.3 H440.4 M434.9 532.5 H440.4" fill="none" stroke="#2020ff" stroke-width="1"/>
<line x1="440.4" y1="521.3" x2="440.4" y2="532.5" stroke="#9c9cff" stroke-width="0.8"/>
<line x1="435.1" y1="520.8" x2="435.1" y2="536" stroke="#1010ff" stroke-width="1.5"/>
<text transform="translate(436.3,530.3) scale(0.955,1)" fill="#000000" stroke="#000000" stroke-width="0.25" font-size="9px">1</text>
<rect x="442.5" y="521.3" width="5.5" height="11.2" fill="#f4f4f4"/>
<path d="M442.5 521.3 H448.0 M442.5 532.5 H448.0" fill="none" stroke="#2020ff" stroke-width="1"/>
<line x1="448.0" y1="521.3" x2="448.0" y2="532.5" stroke="#9c9cff" stroke-width="0.8"/>
<line x1="442.7" y1="520.8" x2="442.7" y2="536" stroke="#1010ff" stroke-width="1.5"/>
<text transform="translate(443.9,530.3) scale(0.955,1)" fill="#000000" stroke="#000000" stroke-width="0.25" font-size="9px">2</text>
<path d="M450.1 521.3 H473.2 L476.0 526.9 L473.2 532.5 H450.1 Z" fill="#f4f4f4" stroke="#2020ff" stroke-width="1"/>
<line x1="450.3" y1="520.8" x2="450.3" y2="536" stroke="#1010ff" stroke-width="1.5"/>
<text transform="translate(451.5,530.3) scale(0.955,1)" fill="#000000" stroke="#000000" stroke-width="0.25" font-size="9px">03:00</text>
<rect x="480.5" y="521.3" width="5.5" height="11.2" fill="#f4f4f4"/>
<path d="M480.5 521.3 H486.0 M480.5 532.5 H486.0" fill="none" stroke="#2020ff" stroke-width="1"/>
<line x1="486.0" y1="521.3" x2="486.0" y2="532.5" stroke="#9c9cff" stroke-width="0.8"/>
<line x1="480.7" y1="520.8" x2="480.7" y2="536" stroke="#1010ff" stroke-width="1.5"/>
<text transform="translate(481.9,530.3) scale(0.955,1)" fill="#000000" stroke="#000000" stroke-width="0.25" font-size="9px">1</text>
<rect x="488.0" y="521.3" width="5.5" height="11.2" fill="#f4f4f4"/>
<path d="M488.0 521.3 H493.5 M488.0 532.5 H493.5" fill="none" stroke="#2020ff" stroke-width="1"/>
<line x1="493.5" y1="521.3" x2="493.5" y2="532.5" stroke="#9c9cff" stroke-width="0.8"/>
<line x1="488.2" y1="520.8" x2="488.2" y2="536" stroke="#1010ff" stroke-width="1.5"/>
<text transform="translate(489.4,530.3) scale(0.955,1)" fill="#000000" stroke="#000000" stroke-width="0.25" font-size="9px">2</text>
<rect x="495.6" y="521.3" width="5.5" height="11.2" fill="#f4f4f4"/>
<path d="M495.6 521.3 H501.1 M495.6 532.5 H501.1" fill="none" stroke="#2020ff" stroke-width="1"/>
<line x1="501.1" y1="521.3" x2="501.1" y2="532.5" stroke="#9c9cff" stroke-width="0.8"/>
<line x1="495.8" y1="520.8" x2="495.8" y2="536" stroke="#1010ff" stroke-width="1.5"/>
<text transform="translate(497.0,530.3) scale(0.955,1)" fill="#000000" stroke="#000000" stroke-width="0.25" font-size="9px">0</text>
<path d="M503.2 521.3 H525.9 L528.7 526.9 L525.9 532.5 H503.2 Z" fill="#f4f4f4" stroke="#2020ff" stroke-width="1"/>
<line x1="503.4" y1="520.8" x2="503.4" y2="536" stroke="#1010ff" stroke-width="1.5"/>
<text transform="translate(504.6,530.3) scale(0.955,1)" fill="#000000" stroke="#000000" stroke-width="0.25" font-size="9px">04:30</text>
<rect x="533.6" y="521.3" width="13.1" height="11.2" fill="#b4ecec"/>
<path d="M533.6 521.3 H546.7 M533.6 532.5 H546.7" fill="none" stroke="#2020ff" stroke-width="1"/>
<line x1="546.7" y1="521.3" x2="546.7" y2="532.5" stroke="#9c9cff" stroke-width="0.8"/>
<line x1="533.8" y1="520.8" x2="533.8" y2="536" stroke="#1010ff" stroke-width="1.5"/>
<text transform="translate(535.0,530.3) scale(0.955,1)" fill="#000000" stroke="#000000" stroke-width="0.25" font-size="9px">20:</text>
<rect x="548.7" y="521.3" width="13.1" height="11.2" fill="#b4ecec"/>
<path d="M548.7 521.3 H561.8 M548.7 532.5 H561.8" fill="none" stroke="#2020ff" stroke-width="1"/>
<line x1="561.8" y1="521.3" x2="561.8" y2="532.5" stroke="#9c9cff" stroke-width="0.8"/>
<line x1="548.9" y1="520.8" x2="548.9" y2="536" stroke="#1010ff" stroke-width="1.5"/>
<text transform="translate(550.1,530.3) scale(0.955,1)" fill="#000000" stroke="#000000" stroke-width="0.25" font-size="9px">04:</text>
<path d="M563.9 521.3 H586.6 L589.4 526.9 L586.6 532.5 H563.9 Z" fill="#f4f4f4" stroke="#2020ff" stroke-width="1"/>
<line x1="564.1" y1="520.8" x2="564.1" y2="536" stroke="#1010ff" stroke-width="1.5"/>
<text transform="translate(565.3,530.3) scale(0.955,1)" fill="#000000" stroke="#000000" stroke-width="0.25" font-size="9px">12:10</text>
<path d="M594.2 521.3 H616.9 L619.7 526.9 L616.9 532.5 H594.2 Z" fill="#b4ecec" stroke="#2020ff" stroke-width="1"/>
<line x1="594.4" y1="520.8" x2="594.4" y2="536" stroke="#1010ff" stroke-width="1.5"/>
<text transform="translate(595.6,530.3) scale(0.955,1)" fill="#000000" stroke="#000000" stroke-width="0.25" font-size="9px">04:30</text>
<rect x="624.6" y="521.3" width="5.5" height="11.2" fill="#f4f4f4"/>
<path d="M624.6 521.3 H630.1 M624.6 532.5 H630.1" fill="none" stroke="#2020ff" stroke-width="1"/>
<line x1="630.1" y1="521.3" x2="630.1" y2="532.5" stroke="#9c9cff" stroke-width="0.8"/>
<line x1="624.8" y1="520.8" x2="624.8" y2="536" stroke="#1010ff" stroke-width="1.5"/>
<text transform="translate(626.0,530.3) scale(0.955,1)" fill="#000000" stroke="#000000" stroke-width="0.25" font-size="9px">2</text>
<rect x="632.2" y="521.3" width="5.5" height="11.2" fill="#b4ecec"/>
<path d="M632.2 521.3 H637.7 M632.2 532.5 H637.7" fill="none" stroke="#2020ff" stroke-width="1"/>
<line x1="637.7" y1="521.3" x2="637.7" y2="532.5" stroke="#9c9cff" stroke-width="0.8"/>
<line x1="632.4" y1="520.8" x2="632.4" y2="536" stroke="#1010ff" stroke-width="1.5"/>
<text transform="translate(633.6,530.3) scale(0.955,1)" fill="#000000" stroke="#000000" stroke-width="0.25" font-size="9px">0</text>
<rect x="639.7" y="521.3" width="5.5" height="11.2" fill="#b4ecec"/>
<path d="M639.7 521.3 H645.2 M639.7 532.5 H645.2" fill="none" stroke="#2020ff" stroke-width="1"/>
<line x1="645.2" y1="521.3" x2="645.2" y2="532.5" stroke="#9c9cff" stroke-width="0.8"/>
<line x1="639.9" y1="520.8" x2="639.9" y2="536" stroke="#1010ff" stroke-width="1.5"/>
<text transform="translate(641.1,530.3) scale(0.955,1)" fill="#000000" stroke="#000000" stroke-width="0.25" font-size="9px">0</text>
<rect x="647.3" y="521.3" width="5.5" height="11.2" fill="#b4ecec"/>
<path d="M647.3 521.3 H652.8 M647.3 532.5 H652.8" fill="none" stroke="#2020ff" stroke-width="1"/>
<line x1="652.8" y1="521.3" x2="652.8" y2="532.5" stroke="#9c9cff" stroke-width="0.8"/>
<line x1="647.5" y1="520.8" x2="647.5" y2="536" stroke="#1010ff" stroke-width="1.5"/>
<text transform="translate(648.7,530.3) scale(0.955,1)" fill="#000000" stroke="#000000" stroke-width="0.25" font-size="9px">0</text>
<rect x="654.9" y="521.3" width="5.5" height="11.2" fill="#ffb4b4"/>
<path d="M654.9 521.3 H660.4 M654.9 532.5 H660.4" fill="none" stroke="#2020ff" stroke-width="1"/>
<line x1="660.4" y1="521.3" x2="660.4" y2="532.5" stroke="#9c9cff" stroke-width="0.8"/>
<line x1="655.1" y1="520.8" x2="655.1" y2="536" stroke="#1010ff" stroke-width="1.5"/>
<text transform="translate(656.3,530.3) scale(0.955,1)" fill="#000000" stroke="#000000" stroke-width="0.25" font-size="9px">1</text>
<rect x="662.5" y="521.3" width="21.5" height="11.2" fill="#b4ecec"/>
<path d="M662.5 521.3 H684.0 M662.5 532.5 H684.0" fill="none" stroke="#2020ff" stroke-width="1"/>
<line x1="684.0" y1="521.3" x2="684.0" y2="532.5" stroke="#9c9cff" stroke-width="0.8"/>
<line x1="662.7" y1="520.8" x2="662.7" y2="536" stroke="#1010ff" stroke-width="1.5"/>
<text transform="translate(663.9,530.3) scale(0.955,1)" fill="#000000" stroke="#000000" stroke-width="0.25" font-size="9px">18:30</text>
<rect x="685.2" y="521.3" width="13.3" height="11.2" fill="#b4ecec"/>
<path d="M685.2 521.3 H698.5 M685.2 532.5 H698.5" fill="none" stroke="#2020ff" stroke-width="1"/>
<line x1="698.5" y1="521.3" x2="698.5" y2="532.5" stroke="#9c9cff" stroke-width="0.8"/>
<line x1="685.5" y1="520.8" x2="685.5" y2="536" stroke="#1010ff" stroke-width="1.5"/>
<text transform="translate(686.6,530.3) scale(0.955,1)" fill="#000000" stroke="#000000" stroke-width="0.25" font-size="9px">07:</text>
<rect x="700.4" y="521.3" width="5.1" height="11.2" fill="#f4f4f4"/>
<path d="M700.4 521.3 H705.5 M700.4 532.5 H705.5" fill="none" stroke="#2020ff" stroke-width="1"/>
<line x1="705.5" y1="521.3" x2="705.5" y2="532.5" stroke="#9c9cff" stroke-width="0.8"/>
<line x1="700.6" y1="520.8" x2="700.6" y2="536" stroke="#1010ff" stroke-width="1.5"/>
<text transform="translate(701.8,530.3) scale(0.955,1)" fill="#000000" stroke="#000000" stroke-width="0.25" font-size="9px">1</text>
<path d="M708.0 521.3 H730.5 L733.3 526.9 L730.5 532.5 H708.0 Z" fill="#b4ecec" stroke="#2020ff" stroke-width="1"/>
<line x1="708.2" y1="520.8" x2="708.2" y2="536" stroke="#1010ff" stroke-width="1.5"/>
<text transform="translate(709.4,530.3) scale(0.955,1)" fill="#000000" stroke="#000000" stroke-width="0.25" font-size="9px">16:45</text>
<rect x="745.9" y="521.3" width="5.5" height="11.2" fill="#b4ecec"/>
<path d="M745.9 521.3 H751.4 M745.9 532.5 H751.4" fill="none" stroke="#2020ff" stroke-width="1"/>
<line x1="751.4" y1="521.3" x2="751.4" y2="532.5" stroke="#9c9cff" stroke-width="0.8"/>
<line x1="746.1" y1="520.8" x2="746.1" y2="536" stroke="#1010ff" stroke-width="1.5"/>
<text transform="translate(747.3,530.3) scale(0.955,1)" fill="#000000" stroke="#000000" stroke-width="0.25" font-size="9px">1</text>
<rect x="753.5" y="521.3" width="5.5" height="11.2" fill="#b4ecec"/>
<path d="M753.5 521.3 H759.0 M753.5 532.5 H759.0" fill="none" stroke="#2020ff" stroke-width="1"/>
<line x1="759.0" y1="521.3" x2="759.0" y2="532.5" stroke="#9c9cff" stroke-width="0.8"/>
<line x1="753.7" y1="520.8" x2="753.7" y2="536" stroke="#1010ff" stroke-width="1.5"/>
<text transform="translate(754.9,530.3) scale(0.955,1)" fill="#000000" stroke="#000000" stroke-width="0.25" font-size="9px">1</text>
<rect x="761.1" y="521.3" width="5.5" height="11.2" fill="#f4f4f4"/>
<path d="M761.1 521.3 H766.6 M761.1 532.5 H766.6" fill="none" stroke="#2020ff" stroke-width="1"/>
<line x1="766.6" y1="521.3" x2="766.6" y2="532.5" stroke="#9c9cff" stroke-width="0.8"/>
<line x1="761.3" y1="520.8" x2="761.3" y2="536" stroke="#1010ff" stroke-width="1.5"/>
<text transform="translate(762.5,530.3) scale(0.955,1)" fill="#000000" stroke="#000000" stroke-width="0.25" font-size="9px">2</text>
<rect x="768.7" y="521.3" width="5.5" height="11.2" fill="#f4f4f4"/>
<path d="M768.7 521.3 H774.2 M768.7 532.5 H774.2" fill="none" stroke="#2020ff" stroke-width="1"/>
<line x1="774.2" y1="521.3" x2="774.2" y2="532.5" stroke="#9c9cff" stroke-width="0.8"/>
<line x1="768.9" y1="520.8" x2="768.9" y2="536" stroke="#1010ff" stroke-width="1.5"/>
<text transform="translate(770.1,530.3) scale(0.955,1)" fill="#000000" stroke="#000000" stroke-width="0.25" font-size="9px">0</text>
<path d="M776.3 521.3 H798.4 L801.2 526.9 L798.4 532.5 H776.3 Z" fill="#ffb4b4" stroke="#2020ff" stroke-width="1"/>
<line x1="776.5" y1="520.8" x2="776.5" y2="536" stroke="#1010ff" stroke-width="1.5"/>
<text transform="translate(777.7,530.3) scale(0.955,1)" fill="#000000" stroke="#000000" stroke-width="0.25" font-size="9px">04:00</text>
<rect x="801.3" y="521.3" width="15.1" height="11.2" fill="#f4f4f4"/>
<path d="M801.3 521.3 H816.4 M801.3 532.5 H816.4" fill="none" stroke="#2020ff" stroke-width="1"/>
<line x1="816.4" y1="521.3" x2="816.4" y2="532.5" stroke="#9c9cff" stroke-width="0.8"/>
<line x1="801.5" y1="520.8" x2="801.5" y2="536" stroke="#1010ff" stroke-width="1.5"/>
<text transform="translate(802.7,530.3) scale(0.955,1)" fill="#000000" stroke="#000000" stroke-width="0.25" font-size="9px">17:</text>
<path d="M819.5 521.3 H842.0 L844.8 526.9 L842.0 532.5 H819.5 Z" fill="#f4f4f4" stroke="#2020ff" stroke-width="1"/>
<line x1="819.7" y1="520.8" x2="819.7" y2="536" stroke="#1010ff" stroke-width="1.5"/>
<text transform="translate(820.9,530.3) scale(0.955,1)" fill="#000000" stroke="#000000" stroke-width="0.25" font-size="9px">03:00</text>
<path d="M852.7 521.3 H875.0 L877.8 526.9 L875.0 532.5 H852.7 Z" fill="#f4f4f4" stroke="#2020ff" stroke-width="1"/>
<line x1="852.9" y1="520.8" x2="852.9" y2="536" stroke="#1010ff" stroke-width="1.5"/>
<text transform="translate(854.1,530.3) scale(0.955,1)" fill="#000000" stroke="#000000" stroke-width="0.25" font-size="9px">20:30</text>
<path d="M901.5 521.3 H923.7 L926.5 526.9 L923.7 532.5 H901.5 Z" fill="#f4f4f4" stroke="#2020ff" stroke-width="1"/>
<line x1="901.7" y1="520.8" x2="901.7" y2="536" stroke="#1010ff" stroke-width="1.5"/>
<text transform="translate(902.9,530.3) scale(0.955,1)" fill="#000000" stroke="#000000" stroke-width="0.25" font-size="9px">22:00</text>
<line x1="3" y1="522.95" x2="975" y2="522.95" stroke="#00ffff" stroke-width="1.8"/>
</g>
<g stroke="#2a2aff" stroke-width="1">
<line x1="472.9" y1="534" x2="472.9" y2="536" />
<line x1="510.8" y1="534" x2="510.8" y2="536" />
<line x1="518.4" y1="534" x2="518.4" y2="536" />
<line x1="526.0" y1="534" x2="526.0" y2="536" />
<line x1="571.5" y1="534" x2="571.5" y2="536" />
<line x1="579.1" y1="534" x2="579.1" y2="536" />
<line x1="586.6" y1="534" x2="586.6" y2="536" />
<line x1="601.8" y1="534" x2="601.8" y2="536" />
<line x1="609.4" y1="534" x2="609.4" y2="536" />
<line x1="617.0" y1="534" x2="617.0" y2="536" />
<line x1="715.6" y1="534" x2="715.6" y2="536" />
<line x1="723.2" y1="534" x2="723.2" y2="536" />
</g>
<g clip-path="url(#cd)">
<line x1="3" y1="592.3" x2="974" y2="592.3" stroke="#707880" stroke-width="1" stroke-dasharray="3.2 3.2"/>
<rect x="0.3" y="592.3" width="3.9" height="53.2" fill="#7fff00"/>
<rect x="7.8" y="592.3" width="3.9" height="48.6" fill="#7fff00"/>
<rect x="15.4" y="592.3" width="3.9" height="45.2" fill="#7fff00"/>
<rect x="23.0" y="592.3" width="3.9" height="42.4" fill="#7fff00"/>
<rect x="30.6" y="592.3" width="3.9" height="41.1" fill="#7fff00"/>
<rect x="38.2" y="592.3" width="3.9" height="39.3" fill="#7fff00"/>
<rect x="45.8" y="592.3" width="3.9" height="38.1" fill="#7fff00"/>
<rect x="53.3" y="592.3" width="3.9" height="36.5" fill="#7fff00"/>
<rect x="60.9" y="592.3" width="3.9" height="36.5" fill="#7fff00"/>
<rect x="68.5" y="592.3" width="3.9" height="38.3" fill="#7fff00"/>
<rect x="76.1" y="592.3" width="3.9" height="29.8" fill="#7fff00"/>
<rect x="83.7" y="592.3" width="3.9" height="20.5" fill="#7fff00"/>
<rect x="91.3" y="592.3" width="3.9" height="3.4" fill="#7fff00"/>
<rect x="98.9" y="583.2" width="3.9" height="9.1" fill="#7fff00"/>
<rect x="106.4" y="572.0" width="3.9" height="20.3" fill="#7fff00"/>
<rect x="114.0" y="565.5" width="3.9" height="26.8" fill="#7fff00"/>
<rect x="121.6" y="562.7" width="3.9" height="29.6" fill="#7fff00"/>
<rect x="129.2" y="561.8" width="3.9" height="30.5" fill="#7fff00"/>
<rect x="136.8" y="560.7" width="3.9" height="31.6" fill="#7fff00"/>
<rect x="144.4" y="560.0" width="3.9" height="32.3" fill="#7fff00"/>
<rect x="151.9" y="557.2" width="3.9" height="35.1" fill="#7fff00"/>
<rect x="159.5" y="556.2" width="3.9" height="36.1" fill="#7fff00"/>
<rect x="167.1" y="556.0" width="3.9" height="36.3" fill="#7fff00"/>
<rect x="174.7" y="552.1" width="3.9" height="40.2" fill="#7fff00"/>
<rect x="182.3" y="552.1" width="3.9" height="40.2" fill="#7fff00"/>
<rect x="189.9" y="551.0" width="3.9" height="41.3" fill="#7fff00"/>
<rect x="197.5" y="550.1" width="3.9" height="42.2" fill="#7fff00"/>
<rect x="205.0" y="549.2" width="3.9" height="43.1" fill="#7fff00"/>
<rect x="212.6" y="551.0" width="3.9" height="41.3" fill="#7fff00"/>
<rect x="220.2" y="554.2" width="3.9" height="38.1" fill="#7fff00"/>
<rect x="227.8" y="561.6" width="3.9" height="30.7" fill="#7fff00"/>
<rect x="235.4" y="571.1" width="3.9" height="21.2" fill="#7fff00"/>
<rect x="243.0" y="576.7" width="3.9" height="15.6" fill="#7fff00"/>
<rect x="250.6" y="581.3" width="3.9" height="11.0" fill="#7fff00"/>
<rect x="258.1" y="583.2" width="3.9" height="9.1" fill="#7fff00"/>
<rect x="265.7" y="586.4" width="3.9" height="5.9" fill="#7fff00"/>
<rect x="273.3" y="592.3" width="3.9" height="2.4" fill="#7fff00"/>
<rect x="280.9" y="592.3" width="3.9" height="10.8" fill="#7fff00"/>
<rect x="288.5" y="592.3" width="3.9" height="16.8" fill="#7fff00"/>
<rect x="296.1" y="592.3" width="3.9" height="24.2" fill="#7fff00"/>
<rect x="303.6" y="592.3" width="3.9" height="30.9" fill="#7fff00"/>
<rect x="311.2" y="592.3" width="3.9" height="34.6" fill="#7fff00"/>
<rect x="318.8" y="592.3" width="3.9" height="35.5" fill="#7fff00"/>
<rect x="326.4" y="592.3" width="3.9" height="33.7" fill="#7fff00"/>
<rect x="334.0" y="592.3" width="3.9" height="30.9" fill="#7fff00"/>
<rect x="341.6" y="592.3" width="3.9" height="27.5" fill="#7fff00"/>
<rect x="349.2" y="592.3" width="3.9" height="25.3" fill="#7fff00"/>
<rect x="356.7" y="592.3" width="3.9" height="23.8" fill="#7fff00"/>
<rect x="364.3" y="592.3" width="3.9" height="21.6" fill="#7fff00"/>
<rect x="371.9" y="592.3" width="3.9" height="17.7" fill="#7fff00"/>
<rect x="379.5" y="592.3" width="3.9" height="14.0" fill="#7fff00"/>
<rect x="387.1" y="592.3" width="3.9" height="9.9" fill="#7fff00"/>
<rect x="394.7" y="592.3" width="3.9" height="7.1" fill="#7fff00"/>
<rect x="409.8" y="587.9" width="3.9" height="4.4" fill="#7fff00"/>
<rect x="417.4" y="582.3" width="3.9" height="10.0" fill="#7fff00"/>
<rect x="425.0" y="579.5" width="3.9" height="12.8" fill="#7fff00"/>
<rect x="432.6" y="578.6" width="3.9" height="13.7" fill="#7fff00"/>
<rect x="440.2" y="575.8" width="3.9" height="16.5" fill="#7fff00"/>
<rect x="447.8" y="575.8" width="3.9" height="16.5" fill="#7fff00"/>
<rect x="455.4" y="575.8" width="3.9" height="16.5" fill="#7fff00"/>
<rect x="462.9" y="582.3" width="3.9" height="10.0" fill="#7fff00"/>
<rect x="470.5" y="586.9" width="3.9" height="5.4" fill="#7fff00"/>
<rect x="478.1" y="590.1" width="3.9" height="2.2" fill="#7fff00"/>
<rect x="493.3" y="592.3" width="3.9" height="1.1" fill="#7fff00"/>
<rect x="500.9" y="592.3" width="3.9" height="5.2" fill="#7fff00"/>
<rect x="508.4" y="592.3" width="3.9" height="12.3" fill="#7fff00"/>
<rect x="516.0" y="592.3" width="3.9" height="21.0" fill="#7fff00"/>
<rect x="523.6" y="592.3" width="3.9" height="31.6" fill="#7fff00"/>
<rect x="531.2" y="592.3" width="3.9" height="38.1" fill="#7fff00"/>
<rect x="538.8" y="592.3" width="3.9" height="41.1" fill="#7fff00"/>
<rect x="546.4" y="592.3" width="3.9" height="42.1" fill="#7fff00"/>
<rect x="554.0" y="592.3" width="3.9" height="44.8" fill="#7fff00"/>
<rect x="561.5" y="592.3" width="3.9" height="48.6" fill="#7fff00"/>
<rect x="569.1" y="592.3" width="3.9" height="50.8" fill="#7fff00"/>
<rect x="576.7" y="592.3" width="3.9" height="50.4" fill="#7fff00"/>
<rect x="584.3" y="592.3" width="3.9" height="48.6" fill="#7fff00"/>
<rect x="591.9" y="592.3" width="3.9" height="46.1" fill="#7fff00"/>
<rect x="599.5" y="592.3" width="3.9" height="43.7" fill="#7fff00"/>
<rect x="607.0" y="592.3" width="3.9" height="43.7" fill="#7fff00"/>
<rect x="614.6" y="592.3" width="3.9" height="40.2" fill="#7fff00"/>
<rect x="622.2" y="592.3" width="3.9" height="34.4" fill="#7fff00"/>
<rect x="629.8" y="592.3" width="3.9" height="30.9" fill="#7fff00"/>
<rect x="637.4" y="592.3" width="3.9" height="27.5" fill="#7fff00"/>
<rect x="645.0" y="592.3" width="3.9" height="21.2" fill="#7fff00"/>
<rect x="652.6" y="592.3" width="3.9" height="10.8" fill="#7fff00"/>
<rect x="660.1" y="592.3" width="3.9" height="3.4" fill="#7fff00"/>
<rect x="667.7" y="590.5" width="3.9" height="1.8" fill="#7fff00"/>
<rect x="675.3" y="581.7" width="3.9" height="10.6" fill="#7fff00"/>
<rect x="682.9" y="575.2" width="3.9" height="17.1" fill="#7fff00"/>
<rect x="690.5" y="572.0" width="3.9" height="20.3" fill="#7fff00"/>
<rect x="698.1" y="575.2" width="3.9" height="17.1" fill="#7fff00"/>
<rect x="705.7" y="575.2" width="3.9" height="17.1" fill="#7fff00"/>
<rect x="713.2" y="572.0" width="3.9" height="20.3" fill="#7fff00"/>
<rect x="720.8" y="570.2" width="3.9" height="22.1" fill="#7fff00"/>
<rect x="728.4" y="574.3" width="3.9" height="18.0" fill="#7fff00"/>
<rect x="736.0" y="581.7" width="3.9" height="10.6" fill="#7fff00"/>
<rect x="743.6" y="590.5" width="3.9" height="1.8" fill="#7fff00"/>
<rect x="751.2" y="592.3" width="3.9" height="8.9" fill="#7fff00"/>
<rect x="758.8" y="592.3" width="3.9" height="24.2" fill="#7fff00"/>
<rect x="766.3" y="592.3" width="3.9" height="36.5" fill="#7fff00"/>
<rect x="773.9" y="592.3" width="3.9" height="46.7" fill="#7fff00"/>
<polyline points="2.8,652.8 9.3,652.0 16.7,651.1 24.2,647.7 31.6,645.3 39.1,642.7 46.5,639.9 53.9,638.1 63.2,634.7 69.8,634.4 78.1,631.0 85.6,628.6 93.0,625.1 100.4,618.9 107.9,612.4 115.3,604.6 122.8,596.6 130.2,590.5 137.6,581.7 145.1,575.2 152.5,569.6 160.0,565.5 168.4,561.8 176.7,558.5 183.3,558.1 191.6,556.0 199.1,555.1 206.5,554.4 213.9,553.3 221.4,552.7 228.8,552.7 236.3,554.7 243.7,557.5 251.1,560.3 258.6,563.5 266.0,566.8 273.5,571.5 280.9,577.6 288.3,583.6 295.8,590.1 303.2,596.2 310.7,601.2 318.1,606.8 325.6,611.5 334.9,617.6 342.3,619.8 350.7,621.7 358.1,622.1 365.6,622.1 373.0,620.8 380.5,618.0 387.9,615.2 396.3,612.0 404.6,609.1 412.1,605.3 419.5,601.6 427.0,597.9 434.4,593.2 441.8,589.2 449.3,586.0 456.7,583.6 464.2,581.7 471.6,581.2 478.1,580.6 487.4,582.6 494.9,583.2 502.3,585.1 509.8,588.6 517.2,592.9 524.6,598.5 532.1,604.0 539.5,608.7 547.0,613.0 554.4,617.4 561.8,622.6 569.3,628.2 576.7,632.9 584.2,636.2 591.6,638.4 599.0,639.4 610.2,639.4 619.5,639.0 626.9,637.0 634.4,635.1 641.8,632.9 647.4,630.1 654.9,626.4 662.3,621.7 669.8,616.1 677.2,610.5 684.6,604.0 692.1,598.5 699.5,592.9 707.0,587.3 714.4,583.2 721.8,579.9 730.2,576.1 737.7,575.8 745.1,576.1 752.5,578.9 760.0,583.2 767.4,590.1 775.8,596.6" fill="none" stroke="#ff00ff" stroke-width="2.1" stroke-linejoin="round"/>
</g>
<text x="5.5" y="550.2" fill="#0000ff" textLength="146" lengthAdjust="spacingAndGlyphs" font-size="8.7px">MACD(12,26,9) -0.001950 -0.000211</text>
<g fill="none" stroke="#0000ff" stroke-width="1">
<path d="M2.5 536.5 V2.5 H974.5 V536.5 H2.5"/>
<path d="M2.5 663.5 V538.5 H978 M974.5 538.5 V663.5 M2.5 663.5 H978"/>
</g>
<g stroke="#0000ff" stroke-width="1">
<line x1="974" y1="20.7" x2="978" y2="20.7"/>
<line x1="974" y1="51.0" x2="978" y2="51.0"/>
<line x1="974" y1="81.3" x2="978" y2="81.3"/>
<line x1="974" y1="111.6" x2="978" y2="111.6"/>
<line x1="974" y1="141.9" x2="978" y2="141.9"/>
<line x1="974" y1="172.2" x2="978" y2="172.2"/>
<line x1="974" y1="202.5" x2="978" y2="202.5"/>
<line x1="974" y1="232.8" x2="978" y2="232.8"/>
<line x1="974" y1="263.1" x2="978" y2="263.1"/>
<line x1="974" y1="293.5" x2="978" y2="293.5"/>
<line x1="974" y1="323.8" x2="978" y2="323.8"/>
<line x1="974" y1="354.1" x2="978" y2="354.1"/>
<line x1="974" y1="384.4" x2="978" y2="384.4"/>
<line x1="974" y1="414.7" x2="978" y2="414.7"/>
<line x1="974" y1="445.0" x2="978" y2="445.0"/>
<line x1="974" y1="475.3" x2="978" y2="475.3"/>
<line x1="974" y1="505.6" x2="978" y2="505.6"/>
</g>
<g fill="#0000ff">
<text x="978.9" y="23.8" textLength="31" lengthAdjust="spacingAndGlyphs" font-size="8.6px">0.78415</text>
<text x="978.9" y="54.1" textLength="31" lengthAdjust="spacingAndGlyphs" font-size="8.6px">0.78010</text>
<text x="978.9" y="84.4" textLength="31" lengthAdjust="spacingAndGlyphs" font-size="8.6px">0.77605</text>
<text x="978.9" y="114.7" textLength="31" lengthAdjust="spacingAndGlyphs" font-size="8.6px">0.77200</text>
<text x="978.9" y="145.0" textLength="31" lengthAdjust="spacingAndGlyphs" font-size="8.6px">0.76795</text>
<text x="978.9" y="175.3" textLength="31" lengthAdjust="spacingAndGlyphs" font-size="8.6px">0.76390</text>
<text x="978.9" y="205.6" textLength="31" lengthAdjust="spacingAndGlyphs" font-size="8.6px">0.75985</text>
<text x="978.9" y="235.9" textLength="31" lengthAdjust="spacingAndGlyphs" font-size="8.6px">0.75580</text>
<text x="978.9" y="266.2" textLength="31" lengthAdjust="spacingAndGlyphs" font-size="8.6px">0.75175</text>
<text x="978.9" y="296.6" textLength="31" lengthAdjust="spacingAndGlyphs" font-size="8.6px">0.74770</text>
<text x="978.9" y="326.9" textLength="31" lengthAdjust="spacingAndGlyphs" font-size="8.6px">0.74365</text>
<text x="978.9" y="357.2" textLength="31" lengthAdjust="spacingAndGlyphs" font-size="8.6px">0.73960</text>
<text x="978.9" y="387.5" textLength="31" lengthAdjust="spacingAndGlyphs" font-size="8.6px">0.73555</text>
<text x="978.9" y="417.8" textLength="31" lengthAdjust="spacingAndGlyphs" font-size="8.6px">0.73150</text>
<text x="978.9" y="448.1" textLength="31" lengthAdjust="spacingAndGlyphs" font-size="8.6px">0.72745</text>
<text x="978.9" y="478.4" textLength="31" lengthAdjust="spacingAndGlyphs" font-size="8.6px">0.72340</text>
<text x="978.9" y="508.7" textLength="31" lengthAdjust="spacingAndGlyphs" font-size="8.6px">0.71935</text>
<text x="979.2" y="546.6" textLength="35.8" lengthAdjust="spacingAndGlyphs" font-size="8.6px">0.002185</text>
<text x="979.2" y="595.3" textLength="35.8" lengthAdjust="spacingAndGlyphs" font-size="8.6px">0.000000</text>
<text x="979.5" y="661.2" textLength="38" lengthAdjust="spacingAndGlyphs" font-size="8.6px">-0.002928</text>
</g>
<rect x="976.6" y="142.9" width="37.5" height="10" fill="#1fae1f"/>
<text x="978.9" y="150.9" fill="#ffffff" textLength="31" lengthAdjust="spacingAndGlyphs" font-size="8.6px">0.76721</text>
<rect x="976.6" y="189.0" width="37.5" height="10" fill="#1e90ff"/>
<text x="978.9" y="197.0" fill="#ffffff" textLength="31" lengthAdjust="spacingAndGlyphs" font-size="8.6px">0.76097</text>
<rect x="976.6" y="207.8" width="37.5" height="10" fill="#1e90ff"/>
<text x="978.9" y="215.8" fill="#ffffff" textLength="31" lengthAdjust="spacingAndGlyphs" font-size="8.6px">0.75839</text>
<rect x="976.6" y="219.4" width="37.5" height="10" fill="#1e90ff"/>
<text x="978.9" y="227.4" fill="#ffffff" textLength="31" lengthAdjust="spacingAndGlyphs" font-size="8.6px">0.75686</text>
<rect x="976.6" y="257.4" width="37.5" height="10" fill="#1e90ff"/>
<text x="978.9" y="265.4" fill="#ffffff" textLength="31" lengthAdjust="spacingAndGlyphs" font-size="8.6px">0.75184</text>
<rect x="976.6" y="270.3" width="37.5" height="10" fill="#1e90ff"/>
<text x="978.9" y="278.3" fill="#ffffff" textLength="31" lengthAdjust="spacingAndGlyphs" font-size="8.6px">0.75011</text>
<rect x="976.6" y="294.1" width="37.5" height="10" fill="#1e90ff"/>
<text x="978.9" y="302.1" fill="#ffffff" textLength="31" lengthAdjust="spacingAndGlyphs" font-size="8.6px">0.74696</text>
<rect x="976.6" y="320.7" width="37.5" height="10" fill="#1e90ff"/>
<text x="978.9" y="328.7" fill="#ffffff" textLength="31" lengthAdjust="spacingAndGlyphs" font-size="8.6px">0.74332</text>
<rect x="976.6" y="341.8" width="36.4" height="10" fill="#808890"/>
<text x="978.9" y="349.8" fill="#ffffff" textLength="31" lengthAdjust="spacingAndGlyphs" font-size="8.6px">0.74071</text>
<rect x="976.6" y="369.2" width="37.5" height="10" fill="#2888f0"/>
<text x="978.9" y="377.2" fill="#ffffff" textLength="31" lengthAdjust="spacingAndGlyphs" font-size="8.6px">0.73695</text>
<rect x="976.6" y="383.6" width="37.5" height="10" fill="#00ffff"/>
<text x="978.9" y="391.6" fill="#ffffff" textLength="31" lengthAdjust="spacingAndGlyphs" font-size="8.6px">0.73500</text>
<rect x="976.6" y="421.3" width="37.5" height="10" fill="#00ffff"/>
<text x="978.9" y="429.3" fill="#ffffff" textLength="31" lengthAdjust="spacingAndGlyphs" font-size="8.6px">0.73000</text>
<rect x="976.6" y="431.8" width="37.5" height="10" fill="#00ffff"/>
<text x="978.9" y="439.8" fill="#ffffff" textLength="31" lengthAdjust="spacingAndGlyphs" font-size="8.6px">0.72860</text>
<rect x="976.6" y="486.0" width="37.5" height="10" fill="#00ffff"/>
<text x="978.9" y="494.0" fill="#ffffff" textLength="31" lengthAdjust="spacingAndGlyphs" font-size="8.6px">0.72137</text>
<rect x="976.6" y="518.4" width="37.5" height="10" fill="#00ffff"/>
<text x="978.9" y="526.4" fill="#ffffff" textLength="31" lengthAdjust="spacingAndGlyphs" font-size="8.6px">0.71710</text>
<g stroke="#0000ff" stroke-width="1">
<line x1="2.5" y1="663" x2="2.5" y2="667.5"/>
<line x1="63.2" y1="663" x2="63.2" y2="667.5"/>
<line x1="123.9" y1="663" x2="123.9" y2="667.5"/>
<line x1="184.5" y1="663" x2="184.5" y2="667.5"/>
<line x1="245.2" y1="663" x2="245.2" y2="667.5"/>
<line x1="305.9" y1="663" x2="305.9" y2="667.5"/>
<line x1="366.6" y1="663" x2="366.6" y2="667.5"/>
<line x1="427.3" y1="663" x2="427.3" y2="667.5"/>
<line x1="487.9" y1="663" x2="487.9" y2="667.5"/>
<line x1="548.6" y1="663" x2="548.6" y2="667.5"/>
<line x1="609.3" y1="663" x2="609.3" y2="667.5"/>
<line x1="670.0" y1="663" x2="670.0" y2="667.5"/>
<line x1="730.7" y1="663" x2="730.7" y2="667.5"/>
</g>
<g fill="#0000ff">
<text x="2.2" y="675.4" textLength="46.8" lengthAdjust="spacingAndGlyphs" font-size="8.7px">11 Apr 2017</text>
<text x="62.9" y="675.4" textLength="50.2" lengthAdjust="spacingAndGlyphs" font-size="8.7px">12 Apr 12:00</text>
<text x="123.6" y="675.4" textLength="50.2" lengthAdjust="spacingAndGlyphs" font-size="8.7px">13 Apr 20:00</text>
<text x="184.2" y="675.4" textLength="50.2" lengthAdjust="spacingAndGlyphs" font-size="8.7px">17 Apr 04:00</text>
<text x="244.9" y="675.4" textLength="50.2" lengthAdjust="spacingAndGlyphs" font-size="8.7px">18 Apr 12:00</text>
<text x="305.6" y="675.4" textLength="50.2" lengthAdjust="spacingAndGlyphs" font-size="8.7px">19 Apr 20:00</text>
<text x="366.3" y="675.4" textLength="50.2" lengthAdjust="spacingAndGlyphs" font-size="8.7px">21 Apr 04:00</text>
<text x="427.0" y="675.4" textLength="50.2" lengthAdjust="spacingAndGlyphs" font-size="8.7px">24 Apr 12:00</text>
<text x="487.6" y="675.4" textLength="50.2" lengthAdjust="spacingAndGlyphs" font-size="8.7px">25 Apr 20:00</text>
<text x="548.3" y="675.4" textLength="50.2" lengthAdjust="spacingAndGlyphs" font-size="8.7px">27 Apr 04:00</text>
<text x="609.0" y="675.4" textLength="50.2" lengthAdjust="spacingAndGlyphs" font-size="8.7px">28 Apr 12:00</text>
<text x="669.7" y="675.4" textLength="47.8" lengthAdjust="spacingAndGlyphs" font-size="8.7px">1 May 20:00</text>
<text x="730.4" y="675.4" textLength="47.8" lengthAdjust="spacingAndGlyphs" font-size="8.7px">3 May 04:00</text>
</g>
</svg>
</body></html>
